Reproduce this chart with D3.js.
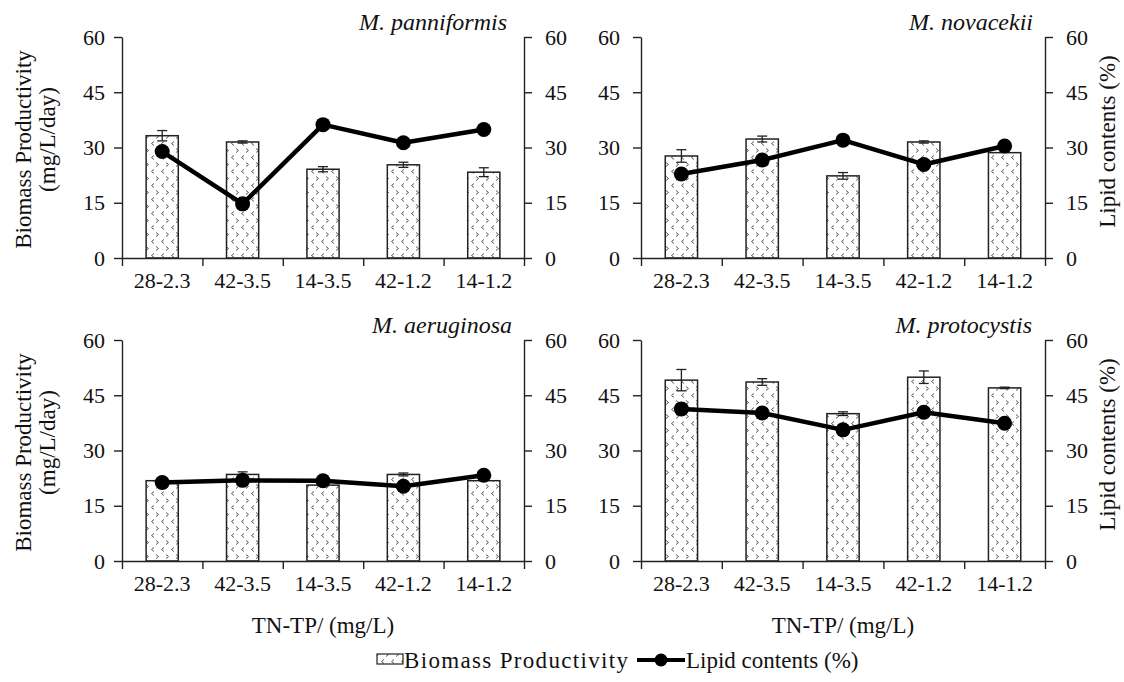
<!DOCTYPE html>
<html>
<head>
<meta charset="utf-8">
<script src="https://cdn.jsdelivr.net/npm/d3@7/dist/d3.min.js"></script>
<style>
  body { margin: 0; background: #fff; }
  svg text { font-family: "Liberation Serif", "DejaVu Serif", serif; fill: #111; }
</style>
</head>
<body>
<div class="chart"></div>
<script>
// x categories: TN-TP ratio (mg/L)
var categories = ["28-2.3", "42-3.5", "14-3.5", "42-1.2", "14-1.2"];
var yTicks = [0, 15, 30, 45, 60];

// M. panniformis
var panniformisBiomass = [33.2, 31.5, 24.1, 25.3, 23.3];
var panniformisError   = [1.4, 0.3, 0.7, 0.7, 1.2];
var panniformisLipid   = [28.9, 14.7, 36.2, 31.3, 34.9];
// M. novacekii
var novacekiiBiomass = [27.7, 32.3, 22.3, 31.5, 28.6];
var novacekiiError   = [1.7, 0.8, 0.9, 0.3, 0];
var novacekiiLipid   = [22.8, 26.6, 32.0, 25.4, 30.4];
// M. aeruginosa
var aeruginosaBiomass = [21.8, 23.5, 20.6, 23.5, 21.8];
var aeruginosaError   = [0, 0.7, 0, 0.4, 0];
var aeruginosaLipid   = [21.3, 21.9, 21.8, 20.3, 23.3];
// M. protocystis
var protocystisBiomass = [49.1, 48.6, 40.0, 49.9, 47.0];
var protocystisError   = [2.9, 0.9, 0.5, 1.7, 0.2];
var protocystisLipid   = [41.3, 40.2, 35.6, 40.4, 37.4];

var width = 1124, height = 682;
var serif = "'Liberation Serif', 'DejaVu Serif', serif";

var svg = d3.select(".chart").append("svg")
    .attr("width", width)
    .attr("height", height)
    .attr("font-family", serif);

// little "< >" fill used by the bars
var pat = svg.append("defs").append("pattern")
    .attr("id", "chev")
    .attr("width", 10).attr("height", 14)
    .attr("patternUnits", "userSpaceOnUse");
pat.append("rect").attr("width", 10).attr("height", 14).attr("fill", "#fff");
pat.append("path").attr("d", "M4,1.5 L1.5,3.5 L4,5.5").attr("fill", "none").attr("stroke", "#444").attr("stroke-width", 0.9);
pat.append("path").attr("d", "M6,8.5 L8.5,10.5 L6,12.5").attr("fill", "none").attr("stroke", "#444").attr("stroke-width", 0.9);

function panel(o) {
    var x = d3.scaleBand().domain(categories).range([o.x0, o.x1]).paddingInner(0.6).paddingOuter(0.3);
    var xb = d3.scaleLinear().domain([0, categories.length]).range([o.x0, o.x1]);
    var y = d3.scaleLinear().domain([0, 60]).range([o.y1, o.y0]);
    var g = svg.append("g");
    var cx = function(i) { return x(categories[i]) + x.bandwidth() / 2; };

    // bars
    g.selectAll("rect.bar").data(o.biomass).enter().append("rect")
        .attr("class", "bar")
        .attr("x", function(d, i) { return x(categories[i]); })
        .attr("width", x.bandwidth())
        .attr("y", function(d) { return y(d); })
        .attr("height", function(d) { return y(0) - y(d); })
        .attr("fill", "url(#chev)")
        .attr("stroke", "#222").attr("stroke-width", 1.5);

    // error bars
    var errs = o.biomass.map(function(d, i) { return { i: i, v: d, e: o.error[i] }; })
        .filter(function(d) { return d.e > 0; });
    var eb = g.selectAll("g.err").data(errs).enter().append("g").attr("class", "err")
        .attr("stroke", "#222").attr("stroke-width", 1.3);
    eb.append("line")
        .attr("x1", function(d) { return cx(d.i); }).attr("x2", function(d) { return cx(d.i); })
        .attr("y1", function(d) { return y(d.v - d.e); }).attr("y2", function(d) { return y(d.v + d.e); });
    eb.append("line")
        .attr("x1", function(d) { return cx(d.i) - 5; }).attr("x2", function(d) { return cx(d.i) + 5; })
        .attr("y1", function(d) { return y(d.v + d.e); }).attr("y2", function(d) { return y(d.v + d.e); });
    eb.append("line")
        .attr("x1", function(d) { return cx(d.i) - 5; }).attr("x2", function(d) { return cx(d.i) + 5; })
        .attr("y1", function(d) { return y(d.v - d.e); }).attr("y2", function(d) { return y(d.v - d.e); });

    // lipid line
    var line = d3.line()
        .x(function(d, i) { return cx(i); })
        .y(function(d) { return y(d); });
    g.append("path").datum(o.lipid)
        .attr("d", line)
        .attr("fill", "none").attr("stroke", "#000").attr("stroke-width", 4.5)
        .attr("stroke-linejoin", "round");
    g.selectAll("circle").data(o.lipid).enter().append("circle")
        .attr("cx", function(d, i) { return cx(i); })
        .attr("cy", function(d) { return y(d); })
        .attr("r", 7.5).attr("fill", "#000");

    // axes
    var left = g.append("g").attr("transform", "translate(" + o.x0 + ",0)")
        .call(d3.axisLeft(y).tickValues(yTicks).tickSize(8).tickSizeOuter(0).tickPadding(o.padL));
    var right = g.append("g").attr("transform", "translate(" + o.x1 + ",0)")
        .call(d3.axisRight(y).tickValues(yTicks).tickSize(8).tickSizeOuter(0).tickPadding(13));
    var bottom = g.append("g").attr("transform", "translate(0," + o.y1 + ")")
        .call(d3.axisBottom(xb).tickValues(d3.range(categories.length + 1)).tickSize(8).tickSizeOuter(0).tickFormat(""));
    var labels = g.append("g").attr("transform", "translate(0," + o.y1 + ")")
        .call(d3.axisBottom(x).tickSize(0).tickPadding(14));
    labels.select(".domain").remove();
    [left, right, bottom, labels].forEach(function(a) {
        a.attr("font-family", serif).attr("font-size", 22);
        a.selectAll("path, line").attr("stroke", "#222").attr("stroke-width", 1.4);
        a.selectAll("text").attr("fill", "#111");
    });
    labels.selectAll("text").attr("dy", "0.72em");

    // title
    g.append("text")
        .attr("x", o.titleX).attr("y", o.y0 - 7)
        .attr("text-anchor", "end")
        .attr("font-size", 24).attr("font-style", "italic")
        .text(o.title);

    var cy = (o.y0 + o.y1) / 2;
    if (o.leftLabel) {
        g.append("text")
            .attr("transform", "translate(31," + (cy + 2) + ") rotate(-90)")
            .attr("text-anchor", "middle").attr("font-size", 23)
            .text("Biomass  Productivity");
        g.append("text")
            .attr("transform", "translate(55," + (cy - 8) + ") rotate(-90)")
            .attr("text-anchor", "middle").attr("font-size", 23)
            .text("(mg/L/day)");
    }
    if (o.rightLabel) {
        g.append("text")
            .attr("transform", "translate(1115," + (cy - 6) + ") rotate(-90)")
            .attr("text-anchor", "middle").attr("font-size", 23)
            .text("Lipid  contents  (%)");
    }
    if (o.xTitle) {
        g.append("text")
            .attr("x", (o.x0 + o.x1) / 2).attr("y", o.y1 + 72)
            .attr("text-anchor", "middle").attr("font-size", 23)
            .text("TN-TP/ (mg/L)");
    }
}

panel({ x0: 122, x1: 524, y0: 37, y1: 258, biomass: panniformisBiomass, error: panniformisError, lipid: panniformisLipid,
        title: "M. panniformis", titleX: 507, padL: 9, leftLabel: true });
panel({ x0: 641, x1: 1045, y0: 37, y1: 258, biomass: novacekiiBiomass, error: novacekiiError, lipid: novacekiiLipid,
        title: "M. novacekii", titleX: 1033, padL: 13, rightLabel: true });
panel({ x0: 122, x1: 524, y0: 340, y1: 561, biomass: aeruginosaBiomass, error: aeruginosaError, lipid: aeruginosaLipid,
        title: "M. aeruginosa", titleX: 512, padL: 9, leftLabel: true, xTitle: true });
panel({ x0: 641, x1: 1045, y0: 340, y1: 561, biomass: protocystisBiomass, error: protocystisError, lipid: protocystisLipid,
        title: "M. protocystis", titleX: 1032, padL: 13, rightLabel: true, xTitle: true });

// legend
var lg = svg.append("g");
lg.append("rect").attr("x", 377).attr("y", 654).attr("width", 26).attr("height", 10)
    .attr("fill", "url(#chev)").attr("stroke", "#222").attr("stroke-width", 1.2);
lg.append("text").attr("x", 404).attr("y", 668).attr("font-size", 23)
    .attr("textLength", 224).attr("lengthAdjust", "spacing")
    .text("Biomass Productivity");
lg.append("line").attr("x1", 637).attr("x2", 685).attr("y1", 660).attr("y2", 660)
    .attr("stroke", "#000").attr("stroke-width", 4);
lg.append("circle").attr("cx", 661).attr("cy", 660).attr("r", 6.5).attr("fill", "#000");
lg.append("text").attr("x", 686).attr("y", 668).attr("font-size", 23).text("Lipid contents (%)");
</script>
</body>
</html>
